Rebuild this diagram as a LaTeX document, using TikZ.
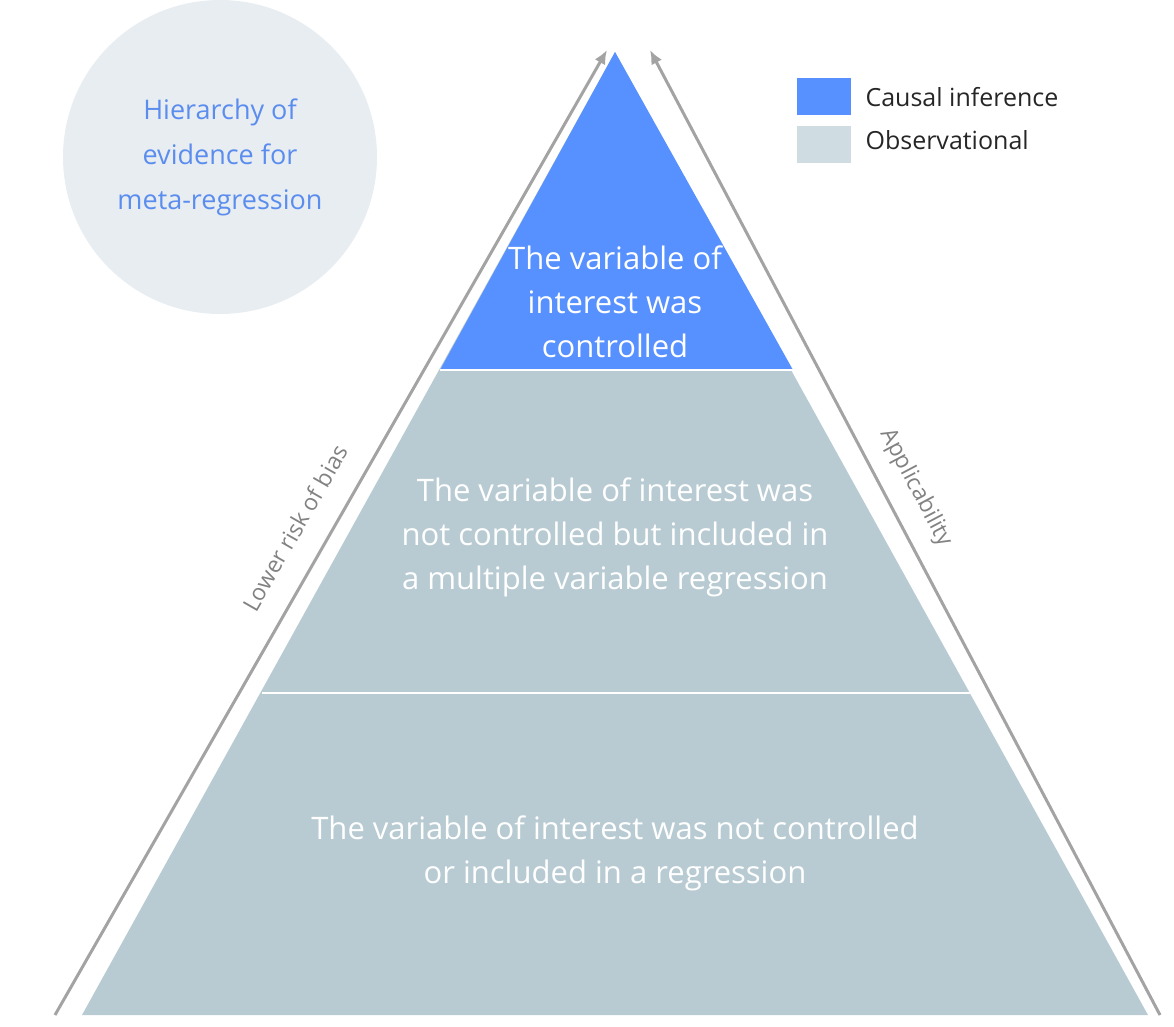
\documentclass[tikz,border=0pt]{standalone}
\usepackage{fontspec}
\setmainfont{Open Sans}
\usetikzlibrary{arrows.meta}
\definecolor{blu}{HTML}{5790FF}
\definecolor{obs}{HTML}{B8CBD3}
\definecolor{obsl}{HTML}{CFDCE1}
\definecolor{circ}{HTML}{E8EDF1}
\definecolor{ttl}{HTML}{5B8DEF}
\definecolor{arr}{HTML}{A3A3A3}
\begin{document}
\begin{tikzpicture}[x=1pt,y=-1pt,
  lvl/.style={text=white,align=center,font=\fontsize{31}{44}\selectfont},
  axis/.style={draw=arr,line width=3,-{Latex[length=14,width=12]}},
  axlab/.style={text=arr!80!black,font=\fontsize{23}{25}\selectfont},
  leg/.style={font=\fontsize{25}{30}\selectfont,text=black!85,anchor=west}]
\useasboundingbox (0,0) rectangle (1174,1026);
\fill[circ] (220,157) circle (157);
\node[text=ttl,align=center,font=\fontsize{27}{45}\selectfont] (title) at (220,157) {Hierarchy of\\evidence for\\meta-regression};
\coordinate (apex) at (615,52);
\coordinate (bl) at (82,1015);
\coordinate (br) at (1148,1015);
\fill[obs] (apex) -- (bl) -- (br) -- cycle;
\fill[blu] (apex) -- (440,370) -- (793,370) -- cycle;
\draw[white,line width=1.5] (262,693) -- (970,693);
\draw[white,line width=1.5] (440,370) -- (793,370);
\node[lvl] (l1) at (615,302) {The variable of\\interest was\\controlled};
\node[lvl] (l2) at (615,537) {The variable of interest was\\not controlled but included in\\a multiple variable regression};
\node[lvl] (l3) at (615,853) {The variable of interest was not controlled\\or included in a regression};
\coordinate (la0) at (55,1015); \coordinate (la1) at (607,50);
\coordinate (ra0) at (1160,1015); \coordinate (ra1) at (650,50);
\draw[axis] (la0) -- (la1);
\draw[axis] (ra0) -- (ra1);
\node[axlab,rotate=60.2] (lrb) at (295,528) {Lower risk of bias};
\node[axlab,rotate=-62.1] (app) at (916,488) {Applicability};
\fill[blu] (797,78) rectangle (851,115);
\fill[obsl] (797,126) rectangle (851,163);
\node[leg] (lg1) at (862,97) {Causal inference};
\node[leg] (lg2) at (862,140) {Observational};
\end{tikzpicture}
\end{document}
